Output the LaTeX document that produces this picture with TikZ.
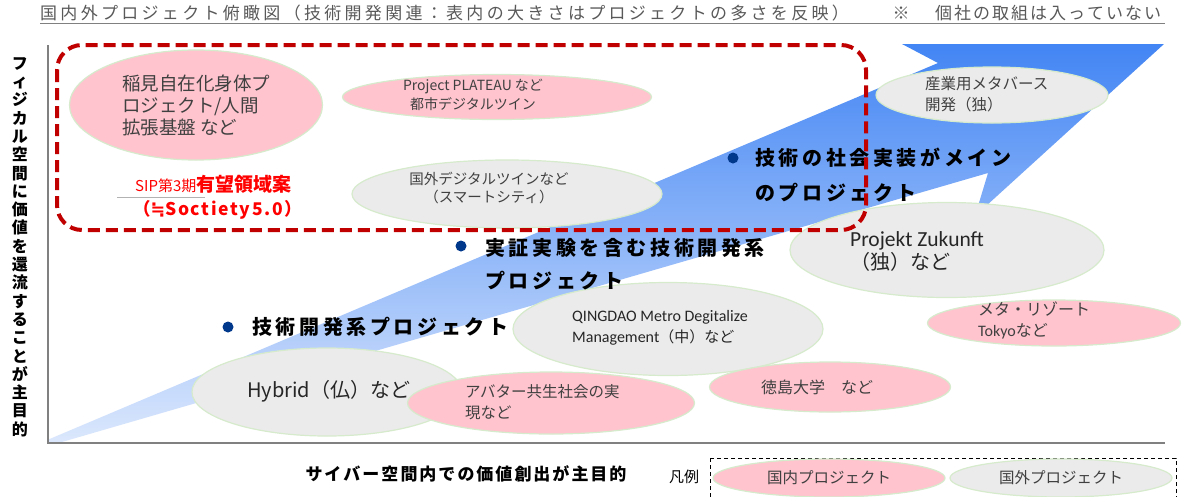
\documentclass[tikz,border=0pt]{standalone}
\usepackage{fontspec}
\setmainfont{Noto Sans CJK JP}
\newfontfamily\cali{Carlito}
\newfontfamily\dejavu{DejaVu Sans}
\usetikzlibrary{shapes.geometric}
\definecolor{pinkf}{RGB}{255,196,206}
\definecolor{grayf}{RGB}{235,235,235}
\definecolor{elb}{RGB}{214,234,204}
\definecolor{boxred}{RGB}{192,0,0}
\definecolor{navy}{RGB}{0,56,140}
\definecolor{txtg}{RGB}{64,64,64}
\definecolor{txtd}{RGB}{38,38,38}
\definecolor{titleg}{RGB}{89,89,89}
\definecolor{axisg}{RGB}{128,128,128}
\definecolor{blueA}{RGB}{66,133,244}
\definecolor{blueB}{RGB}{160,195,248}
\definecolor{blueC}{RGB}{226,236,253}
\definecolor{sipred}{RGB}{255,0,0}
\makeatletter
\newcommand\trk[2]{\def\trk@amt{#1}\trk@loop#2\trk@end}
\def\trk@end{TRKEND}
\def\trk@loop#1{\ifx#1\trk@end\else#1\kern\trk@amt\relax\expandafter\trk@loop\fi}
\makeatother
\begin{document}
\begin{tikzpicture}[x=1pt,y=-1pt,
  dom/.style={ellipse, draw=elb, line width=1.2pt, fill=pinkf, inner sep=0pt},
  ovs/.style={ellipse, draw=elb, line width=1.2pt, fill=grayf, inner sep=0pt},
  etxt/.style={text=txtg, align=left, inner sep=0pt},
  btxt/.style={font=\bfseries\fontsize{20}{24}\selectfont, anchor=west, inner sep=0pt, text=black},
  bul/.style={circle, fill=navy, inner sep=0pt, minimum size=11pt},
]
\useasboundingbox (0,0) rectangle (1188,496);
\fill[white] (0,0) rectangle (1188,496);

% big arrow
\begin{scope}
\clip (48,0) rectangle (1188,443);
\shade[top color=blueA, middle color=blueB, bottom color=blueC]
  (0,460) -- (938,63) -- (902,44) -- (1164,44) -- (975,216) -- (988,173) -- cycle;
\end{scope}

% axes
\coordinate (ax0) at (48,45);
\coordinate (ax1) at (48,443);
\coordinate (ax2) at (1165,443);
\draw[axisg, line width=1.5pt] (ax0) -- (ax1) -- (ax2);

% title
\node[anchor=west, inner sep=0pt, text=titleg, font=\fontsize{17}{20}\selectfont] (title1) at (40,13)
  {\trk{3.3pt}{国内外プロジェクト俯瞰図（技術開発関連：表内の大きさはプロジェクトの多さを反映）}};
\node[inner sep=0pt, text=titleg, font=\fontsize{17}{20}\selectfont] (title2) at (901,13) {※};
\node[anchor=west, inner sep=0pt, text=titleg, font=\fontsize{17}{20}\selectfont] (title3) at (935,13)
  {\trk{2pt}{個社の取組は入っていない}};
\coordinate (ul0) at (40,23);
\coordinate (ul1) at (1165,23);
\draw[axisg, line width=1pt] (ul0) -- (ul1);

% y label
\node[font=\bfseries\fontsize{16}{18.3}\selectfont, align=center, inner sep=0pt] (ylab) at (20,247)
  {フ\\ィ\\ジ\\カ\\ル\\空\\間\\に\\価\\値\\を\\還\\流\\す\\る\\こ\\と\\が\\主\\目\\的};

% ellipses
\node[dom, minimum width=253pt, minimum height=110pt] (inami) at (196,105) {};
\node[dom, minimum width=309pt, minimum height=45pt] (plateau) at (497,97) {};
\node[ovs, minimum width=310pt, minimum height=68pt] (kokugai) at (507,194) {};
\node[ovs, minimum width=232pt, minimum height=56pt] (sangyo) at (992,95) {};
\node[ovs, minimum width=314pt, minimum height=95pt] (zukunft) at (947,250) {};
\node[dom, minimum width=253pt, minimum height=46pt] (resort) at (1054,323) {};
\node[ovs, minimum width=310pt, minimum height=93pt] (qingdao) at (668,329) {};
\node[ovs, minimum width=270pt, minimum height=88pt] (hybrid) at (327,392) {};
\node[dom, minimum width=287pt, minimum height=62pt] (avatar) at (551,403) {};
\node[dom, minimum width=241pt, minimum height=50pt] (tokushima) at (830,387) {};

% ellipse texts
\node[etxt, anchor=west, font=\fontsize{18.5}{22}\selectfont] (tinami) at (122,105)
  {稲見自在化身体プ\\ロジェクト/人間\\拡張基盤 など};
\node[etxt, align=center, font=\fontsize{14}{19}\selectfont] (tplateau) at (473,95)
  {Project PLATEAU など\\都市デジタルツイン};
\node[etxt, align=center, font=\fontsize{14.5}{18}\selectfont] (tkokugai) at (489,188)
  {国外デジタルツインなど\\（スマートシティ）};
\node[etxt, anchor=west, font=\fontsize{15.5}{21}\selectfont] (tsangyo) at (925,94)
  {産業用メタバース\\開発（独）};
\node[etxt, text=txtd, anchor=west, font=\fontsize{20}{23}\selectfont] (tzukunft) at (850,251)
  {{\cali\fontsize{21.5}{23}\selectfont Projekt Zukunft}\\（独）など};
\node[etxt, anchor=west, font=\fontsize{16}{21}\selectfont] (tresort) at (978,320)
  {メタ・リゾート\\{\cali Tokyo}など};
\node[etxt, text=txtd, anchor=west, font=\fontsize{15}{21}\selectfont] (tqingdao) at (572,328)
  {{\cali\fontsize{16}{21}\selectfont QINGDAO Metro Degitalize}\\{\cali\fontsize{16}{21}\selectfont Management}（中）など};
\node[etxt, text=txtd, anchor=west, font=\fontsize{20}{23}\selectfont] (thybrid) at (247,391)
  {Hybrid（仏）など};
\node[etxt, anchor=west, font=\fontsize{15.5}{21}\selectfont] (tavatar) at (465,402)
  {アバター共生社会の実\\現など};
\node[etxt, font=\fontsize{16}{20}\selectfont] (ttoku) at (817,387) {徳島大学　など};

% bullet texts
\node[bul] (b1) at (733,158) {};
\node[btxt] (b1a) at (755,158) {\trk{3.6pt}{技術の社会実装がメイン}};
\node[btxt] (b1b) at (755,193) {\trk{3.6pt}{のプロジェクト}};
\node[bul] (b2) at (461,246) {};
\node[btxt] (b2a) at (485,248) {\trk{3.6pt}{実証実験を含む技術開発系}};
\node[btxt] (b2b) at (485,281) {\trk{3.6pt}{プロジェクト}};
\node[bul] (b3) at (228,327) {};
\node[btxt] (b3a) at (252,327) {\trk{3.6pt}{技術開発系プロジェクト}};

% SIP label
\node[anchor=west, inner sep=0pt, text=sipred] (sip1) at (135,184)
  {\fontsize{15}{18}\selectfont SIP第3期\fontsize{19}{22}\selectfont\bfseries 有望領域案};
\coordinate (sl0) at (117,197);
\coordinate (sl1) at (205,197);
\draw[gray!60, line width=0.8pt] (sl0) -- (sl1);
\node[anchor=west, inner sep=0pt, text=sipred, font=\bfseries\fontsize{17.5}{20}\selectfont] (sip2) at (133,210)
  {（{\dejavu ≒}\trk{1.6pt}{Soctiety5.0}）};

% red dashed box
\draw[boxred, line width=4pt, dash pattern=on 12pt off 6pt, rounded corners=25pt] (57,45) rectangle (866,230);

% bottom label and legend
\node[font=\bfseries\fontsize{17}{19}\selectfont, inner sep=0pt] (xlab) at (467,474)
  {\trk{2pt}{サイバー空間内での価値創出が主目的}};
\node[font=\fontsize{15}{18}\selectfont, inner sep=0pt] (hanrei) at (684,477) {凡例};
\draw[black, line width=1pt, dash pattern=on 4pt off 3pt] (710,458) rectangle (1176,512);
\node[dom, minimum width=232pt, minimum height=38pt] (leg1) at (829,478) {};
\node[ovs, minimum width=222pt, minimum height=38pt] (leg2) at (1061,478) {};
\node[etxt, font=\fontsize{15.5}{18}\selectfont] (tleg1) at (leg1.center) {国内プロジェクト};
\node[etxt, font=\fontsize{15.5}{18}\selectfont] (tleg2) at (leg2.center) {国外プロジェクト};
\end{tikzpicture}
\end{document}
